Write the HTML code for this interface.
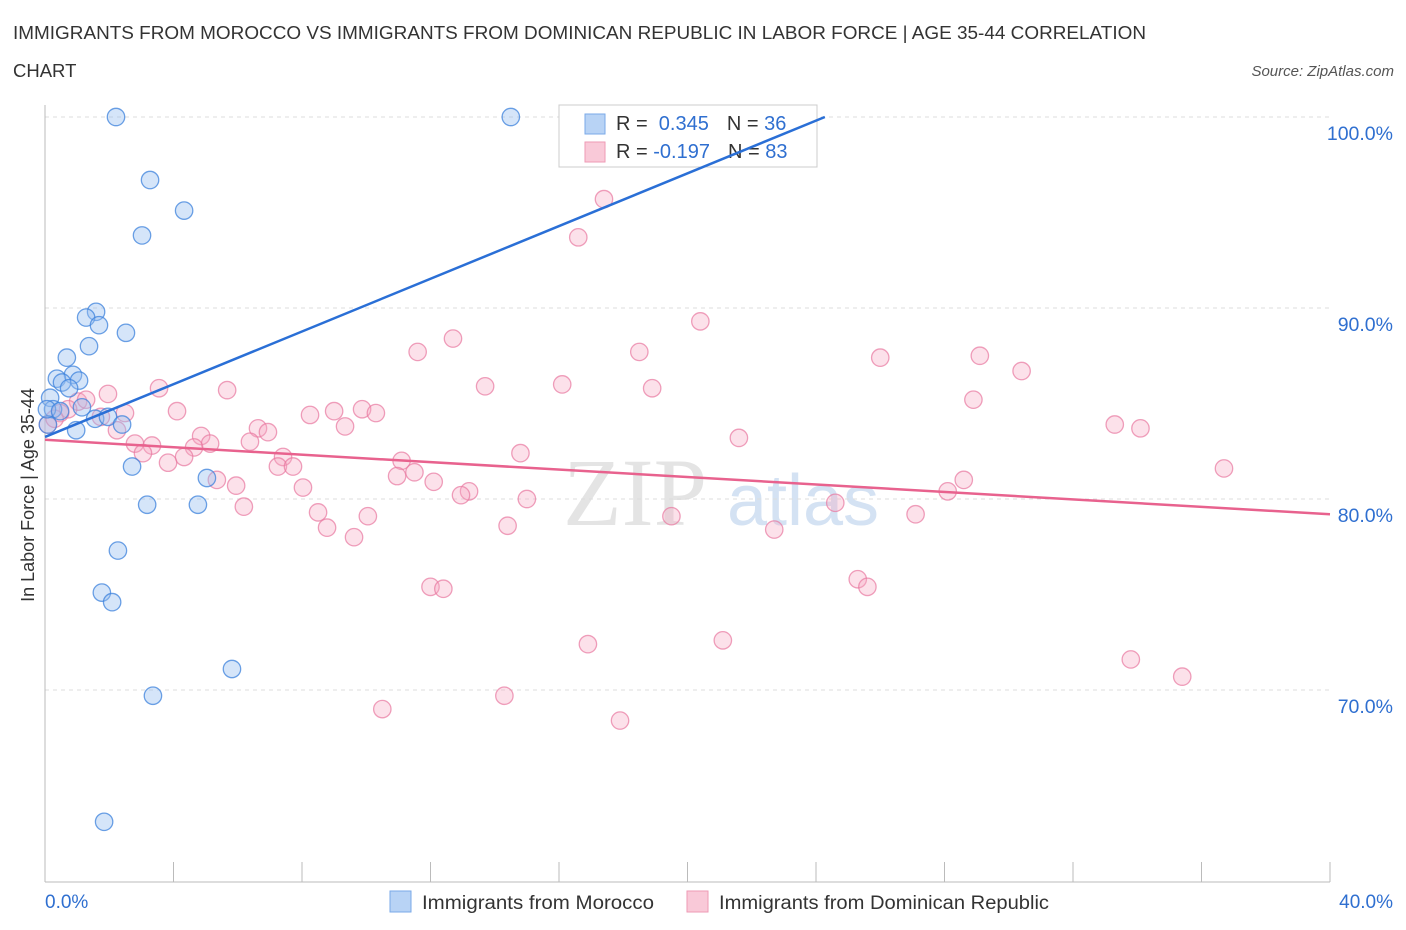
<!DOCTYPE html>
<html><head><meta charset="utf-8"><style>
body{margin:0;background:#fff;font-family:"Liberation Sans",sans-serif;}
svg{display:block}
</style></head><body>
<svg id="c" width="1406" height="930" xmlns="http://www.w3.org/2000/svg">
<text x="13" y="39" font-size="18.5" fill="#333" textLength="1133" lengthAdjust="spacingAndGlyphs">IMMIGRANTS FROM MOROCCO VS IMMIGRANTS FROM DOMINICAN REPUBLIC IN LABOR FORCE | AGE 35-44 CORRELATION</text>
<text x="13" y="77" font-size="18.5" fill="#333">CHART</text>
<text x="1394" y="76" font-size="15" fill="#555" font-style="italic" text-anchor="end">Source: ZipAtlas.com</text>
<text x="635" y="525" font-size="96" fill="#e4e4e4" font-family="Liberation Serif" text-anchor="middle">ZIP</text>
<text x="803" y="525" font-size="72" fill="#d4e2f3" text-anchor="middle">atlas</text>
<g id="grid"></g>
<g>
<rect x="559" y="105" width="258" height="62" fill="#fff" stroke="#ccc"/>
<rect x="585" y="114" width="20" height="20" fill="#b8d3f5" stroke="#7aaae8"/>
<rect x="585" y="142" width="20" height="20" fill="#f9c9d8" stroke="#ee9ab5"/>
<text x="616" y="130" font-size="20" fill="#333">R = <tspan fill="#2f6fd0">&#160;0.345</tspan><tspan dx="18">N = </tspan><tspan fill="#2f6fd0">36</tspan></text>
<text x="616" y="158" font-size="20" fill="#333">R = <tspan fill="#2f6fd0">-0.197</tspan><tspan dx="18">N = </tspan><tspan fill="#2f6fd0">83</tspan></text>
</g>
<g id="marks"></g>
<text transform="translate(34,495) rotate(-90)" font-size="18" fill="#333" text-anchor="middle">In Labor Force | Age 35-44</text>
<g>
<rect x="390" y="891" width="21" height="21" fill="#b8d3f5" stroke="#7aaae8"/>
<text x="422" y="909" font-size="19" fill="#333" textLength="232" lengthAdjust="spacingAndGlyphs">Immigrants from Morocco</text>
<rect x="687" y="891" width="21" height="21" fill="#f9c9d8" stroke="#ee9ab5"/>
<text x="719" y="909" font-size="19" fill="#333" textLength="330" lengthAdjust="spacingAndGlyphs">Immigrants from Dominican Republic</text>
</g>
</svg>
<script>
const blueX=[2.21,14.5,3.27,4.33,3.02,1.59,1.28,1.68,2.52,1.37,0.68,0.87,0.37,1.06,0.53,0.75,0.16,0.25,1.15,1.56,1.96,2.40,0.97,0.09,2.71,5.04,3.18,4.76,2.27,1.77,2.09,5.82,3.36,1.84,0.06,0.47];
const blueY=[100,100,96.7,95.1,93.8,89.8,89.5,89.1,88.7,88.0,87.4,86.5,86.3,86.2,86.1,85.8,85.3,84.7,84.8,84.2,84.3,83.9,83.6,83.9,81.7,81.1,79.7,79.7,77.3,75.1,74.6,71.1,69.7,63.1,84.7,84.6];
const pinkX=[17.4,16.6,20.4,12.7,11.6,18.5,26.0,29.1,30.4,16.1,13.7,18.9,3.55,5.67,1.96,28.9,1.03,4.11,9.0,9.87,10.3,8.25,2.49,1.74,0.72,33.3,34.1,9.34,6.63,6.94,2.24,4.86,21.6,6.38,2.80,3.33,5.14,4.64,3.05,14.8,4.33,7.41,3.83,11.1,7.25,7.72,11.5,36.7,10.96,5.35,12.1,28.6,5.95,8.03,13.2,12.95,28.1,15.0,24.6,6.19,8.5,10.05,27.1,19.5,14.4,8.78,22.7,9.62,25.3,25.6,12.0,12.4,16.9,21.1,33.8,35.4,14.3,10.5,17.9,0.09,1.28,0.47,0.3];
const pinkY=[95.7,93.7,89.3,88.4,87.7,87.7,87.4,87.5,86.7,86.0,85.9,85.8,85.8,85.7,85.5,85.2,85.1,84.6,84.6,84.7,84.5,84.4,84.5,84.3,84.7,83.9,83.7,83.8,83.7,83.5,83.6,83.3,83.2,83.0,82.9,82.8,82.9,82.7,82.4,82.4,82.2,82.2,81.9,82.0,81.7,81.7,81.4,81.6,81.2,81.0,80.9,81.0,80.7,80.6,80.4,80.2,80.4,80.0,79.8,79.6,79.3,79.1,79.2,79.1,78.6,78.5,78.4,78.0,75.8,75.4,75.4,75.3,72.4,72.6,71.6,70.7,69.7,69.0,68.4,83.9,85.2,84.5,84.2];
const blueTrend=[83.25,0.69];
const pinkTrend=[83.1,-0.0975];
const yTicks=[100,90,80,70];
const xTickLabels=["0.0%","40.0%"];
const NS="http://www.w3.org/2000/svg";
const sx=v=>45+v*1285/40;
const sy=v=>117+(100-v)*19.1;
function mk(tag,attrs,parent){const e=document.createElementNS(NS,tag);for(const k in attrs)e.setAttribute(k,attrs[k]);parent.appendChild(e);return e;}
const grid=document.getElementById('grid'),marks=document.getElementById('marks'),svg=document.getElementById('c');
yTicks.forEach(t=>{
  const l=mk('line',{x1:45,x2:1330,y1:sy(t),y2:sy(t),stroke:'#ddd','stroke-dasharray':'4,4'},grid);
  
  
  const tx=mk('text',{x:1393,y:sy(t)+23,'font-size':19.5,fill:'#2f6fd0','text-anchor':'end'},svg);
  tx.textContent=t.toFixed(1)+'%';
  
  
});
const ax=mk('line',{x1:45,x2:45,y1:105,y2:882,stroke:'#bbb'},grid);


const bx=mk('line',{x1:45,x2:1330,y1:882,y2:882,stroke:'#bbb'},grid);


for(let i=0;i<=10;i++){const x=45+i*128.5;const t=mk('line',{x1:x,x2:x,y1:862,y2:882,stroke:'#bbb'},grid);

}
[[0,"start",45],[40,"end",1393]].forEach((d,i)=>{const t=mk('text',{x:d[2],y:908,'font-size':19,fill:'#2f6fd0','text-anchor':d[1]},svg);t.textContent=xTickLabels[i];

});
pinkX.forEach((x,i)=>{const c=mk('circle',{cx:sx(x),cy:sy(pinkY[i]),r:8.7,fill:'rgba(246,170,195,0.35)',stroke:'rgba(232,120,160,0.7)','stroke-width':1.3},marks);

});
blueX.forEach((x,i)=>{const c=mk('circle',{cx:sx(x),cy:sy(blueY[i]),r:8.7,fill:'rgba(150,190,240,0.4)',stroke:'rgba(60,130,220,0.75)','stroke-width':1.3},marks);

});
const bEnd=(100-blueTrend[0])/blueTrend[1];
const bl=mk('line',{x1:sx(0),y1:sy(blueTrend[0]),x2:sx(bEnd),y2:sy(100),stroke:'#2a6fd6','stroke-width':2.5},marks);


const pl=mk('line',{x1:sx(0),y1:sy(pinkTrend[0]),x2:sx(40),y2:sy(pinkTrend[0]+pinkTrend[1]*40),stroke:'#e8628e','stroke-width':2.5},marks);


</script>
</body></html>
